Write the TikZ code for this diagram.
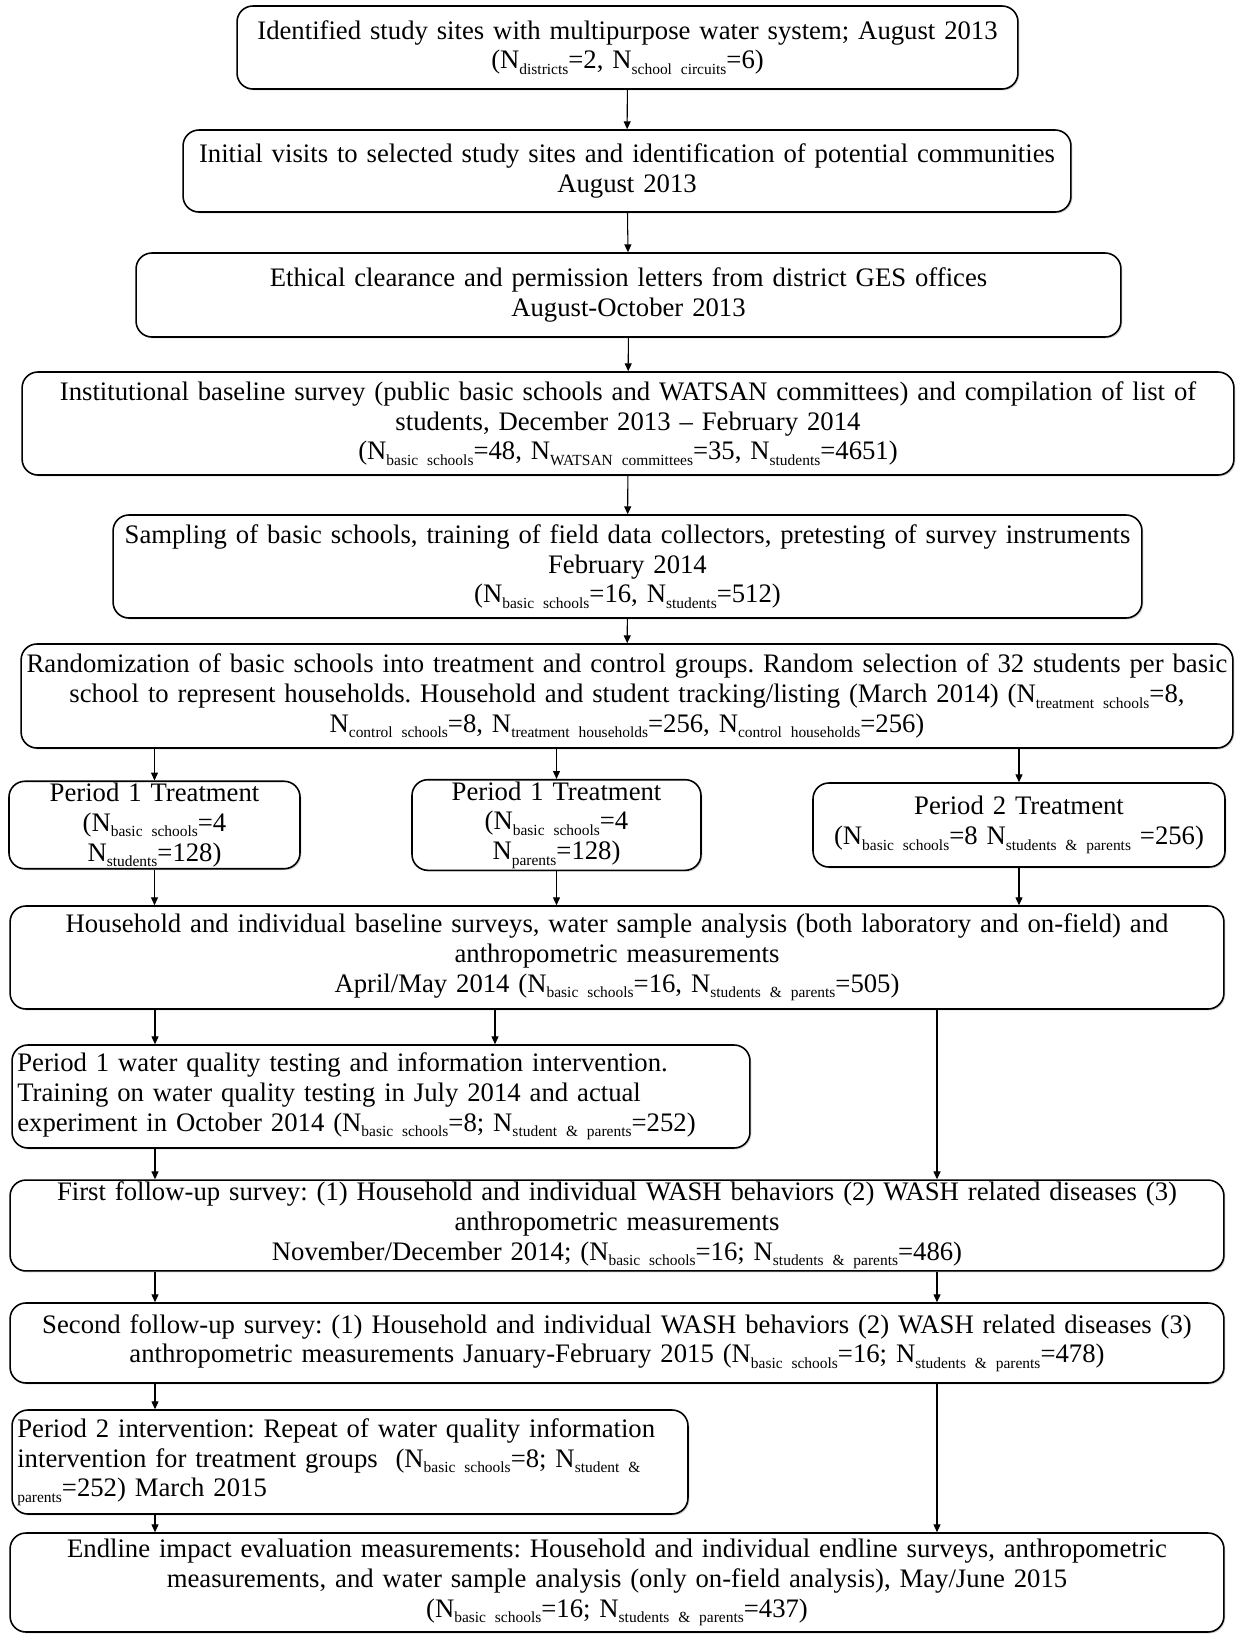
\documentclass[tikz,border=0pt]{standalone}
\usepackage{fontspec}
\setmainfont{Liberation Serif}[WordSpace=0.9]
\usetikzlibrary{arrows.meta,positioning,shadows}
\newcommand{\Nsub}[1]{N\raisebox{-0.45ex}{\fontsize{8.8}{9}\selectfont #1}}
\frenchspacing

\begin{document}
\begin{tikzpicture}[x=0.02cm,y=-0.02cm]
\useasboundingbox (0,0) rectangle (1238,1634);
\coordinate (colA) at (155,0);
\coordinate (colB) at (495,0);
\coordinate (colC) at (937,0);
\begin{scope}[every node/.style={draw,rounded corners=9pt,line width=0.9pt,inner xsep=3pt,inner ysep=1pt,align=center,
              font=\fontsize{15.2}{17}\selectfont,fill=white,
              drop shadow={shadow xshift=0.8pt,shadow yshift=-0.8pt,fill=black!35}}]
    \node[text width=15.41cm,minimum height=1.66cm] (sites) at (627.5,47.5)
      {Identified study sites with multipurpose water system; August 2013\\
       (\Nsub{districts}=2, \Nsub{school circuits}=6)};
    \node[text width=17.55cm,minimum height=1.64cm] (visits) at (627,171)
      {Initial visits to selected study sites and identification of potential communities\\
       August 2013};
    \node[text width=19.49cm,minimum height=1.68cm] (ethics) at (628.5,295)
      {Ethical clearance and permission letters from district GES offices\\
       August-October 2013};
    \node[text width=24.03cm,minimum height=2.06cm] (inst) at (628,423.5)
      {Institutional baseline survey (public basic schools and WATSAN committees) and compilation of list of\\
       students, December 2013 -- February 2014\\
       (\Nsub{basic schools}=48, \Nsub{WATSAN committees}=35, \Nsub{students}=4651)};
    \node[text width=20.37cm,minimum height=2.06cm] (sampling) at (627.5,566.5)
      {Sampling of basic schools, training of field data collectors, pretesting of survey instruments\\
       February 2014\\
       (\Nsub{basic schools}=16, \Nsub{students}=512)};
    \node[text width=24.17cm,minimum height=2.08cm,inner xsep=1pt] (random) at (627,696)
      {Randomization of basic schools into treatment and control groups. Random selection of 32 students per basic\\
       school to represent households. Household and student tracking/listing (March 2014) (\Nsub{treatment schools}=8,\\
       \Nsub{control schools}=8, \Nsub{treatment households}=256, \Nsub{control households}=256)};
    \node[text width=5.61cm,minimum height=1.68cm] (perstud) at (154.5,825)
      {Period 1 Treatment\\
       (\Nsub{basic schools}=4\\
       \Nsub{students}=128)};
    \node[text width=5.57cm,minimum height=1.68cm] (perpar) at (556.5,825)
      {Period 1 Treatment\\
       (\Nsub{basic schools}=4\\
       \Nsub{parents}=128)};
    \node[text width=8.03cm,minimum height=1.68cm] (pertwo) at (1019,825)
      {Period 2 Treatment\\
       (\Nsub{basic schools}=8 \Nsub{students \& parents} =256)};
    \node[text width=24.07cm,minimum height=2.06cm] (baseline) at (617,957.5)
      {Household and individual baseline surveys, water sample analysis (both laboratory and on-field) and\\
       anthropometric measurements\\
       April/May 2014 (\Nsub{basic schools}=16, \Nsub{students \& parents}=505)};
    \node[text width=14.55cm,minimum height=2.06cm,align=left] (quality) at (381,1096.5)
      {Period 1 water quality testing and information intervention.\\
       Training on water quality testing in July 2014 and actual\\
       experiment in October 2014 (\Nsub{basic schools}=8; \Nsub{student \& parents}=252)};
    \node[text width=24.07cm,minimum height=1.66cm] (followone) at (617,1225.5)
      {First follow-up survey: (1) Household and individual WASH behaviors (2) WASH related diseases (3)\\
       anthropometric measurements\\
       November/December 2014; (\Nsub{basic schools}=16; \Nsub{students \& parents}=486)};
    \node[text width=24.07cm,minimum height=1.60cm] (followtwo) at (617,1343)
      {Second follow-up survey: (1) Household and individual WASH behaviors (2) WASH related diseases (3)\\
       anthropometric measurements January-February 2015 (\Nsub{basic schools}=16; \Nsub{students \& parents}=478)};
    \node[text width=13.31cm,minimum height=2.08cm,align=left] (repeat) at (350,1462)
      {Period 2 intervention: Repeat of water quality information\\
       intervention for treatment groups~~(\Nsub{basic schools}=8; \Nsub{student \&}\\
       \raisebox{-0.45ex}{\fontsize{8.8}{9}\selectfont parents}=252) March 2015};
    \node[text width=24.07cm,minimum height=1.98cm] (endline) at (617,1582.5)
      {Endline impact evaluation measurements: Household and individual endline surveys, anthropometric\\
       measurements, and water sample analysis (only on-field analysis), May/June 2015\\
       (\Nsub{basic schools}=16; \Nsub{students \& parents}=437)};
\end{scope}
\begin{scope}[>={Triangle[length=4.5pt,width=4pt]},
              every edge/.style={draw,->,line width=0.6pt}]
    \path (sites) edge (visits);
    \path (visits) edge (ethics);
    \path (ethics) edge (inst);
    \path (inst) edge (sampling);
    \path (sampling) edge (random);
    \path (random.south -| perstud) edge (perstud);
    \path (random.south -| perpar) edge (perpar);
    \path (random.south -| pertwo) edge (pertwo);
    \path (perstud) edge (baseline.north -| perstud);
    \path (perpar) edge (baseline.north -| perpar);
    \path (pertwo) edge (baseline.north -| pertwo);
    \path (baseline.south -| colA) edge (quality.north -| colA);
    \path (baseline.south -| colB) edge (quality.north -| colB);
    \path (baseline.south -| colC) edge (followone.north -| colC);
    \path (quality.south -| colA) edge (followone.north -| colA);
    \path (followone.south -| colA) edge (followtwo.north -| colA);
    \path (followone.south -| colC) edge (followtwo.north -| colC);
    \path (followtwo.south -| colA) edge (repeat.north -| colA);
    \path (followtwo.south -| colC) edge (endline.north -| colC);
    \path (repeat.south -| colA) edge (endline.north -| colA);
\end{scope}
\end{tikzpicture}
\end{document}
